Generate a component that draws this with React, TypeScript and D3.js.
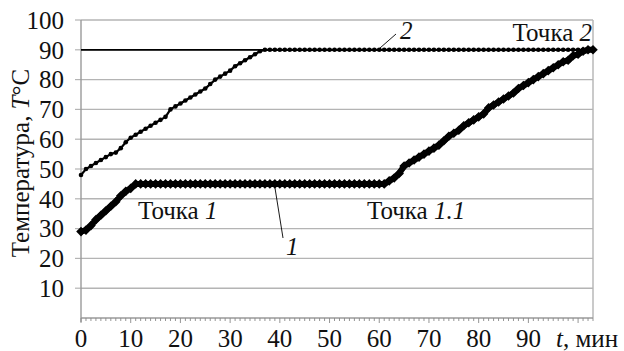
import * as d3 from 'd3';

// time, min (one reading per minute)
const minutes: number[] = d3.range(0, 104);

// curve 1 – Точка 1 / Точка 1.1
const curve1: number[] = [
  29, 29.5, 31, 33, 34.5, 36, 37.5, 39, 41, 42.5,
  43.5, 45, 45, 45, 45, 45, 45, 45, 45, 45,
  45, 45, 45, 45, 45, 45, 45, 45, 45, 45,
  45, 45, 45, 45, 45, 45, 45, 45, 45, 45,
  45, 45, 45, 45, 45, 45, 45, 45, 45, 45,
  45, 45, 45, 45, 45, 45, 45, 45, 45, 45,
  45, 45, 46, 47, 48.5, 51, 52, 53, 54, 55,
  56, 57, 58, 59.5, 61, 62, 63, 64.5, 65.5, 66.5,
  67.5, 68.5, 70.5, 71.5, 72.5, 73.5, 74.5, 75.5, 77, 78,
  79, 80, 81, 82, 83, 84, 85, 86, 86.5, 88,
  88.5, 89.5, 90, 90
];

// curve 2 – Точка 2
const curve2: number[] = [
  48, 50, 51, 52, 53, 54, 55, 55.5, 57, 59,
  60.5, 61.5, 62.5, 63.5, 64.5, 65.5, 66.5, 67.5, 70, 71,
  72, 73, 74, 75, 76, 77, 78.5, 80, 81, 82,
  83, 84.5, 85.5, 86.5, 87.5, 88.5, 89.5, 90, 90, 90,
  90, 90, 90, 90, 90, 90, 90, 90, 90, 90,
  90, 90, 90, 90, 90, 90, 90, 90, 90, 90,
  90, 90, 90, 90, 90, 90, 90, 90, 90, 90,
  90, 90, 90, 90, 90, 90, 90, 90, 90, 90,
  90, 90, 90, 90, 90, 90, 90, 90, 90, 90,
  90, 90, 90, 90, 90, 90, 90, 90, 90, 90,
  90, 90, 90, 90
];

const setPoint = 90;
const yTicks: number[] = [10, 20, 30, 40, 50, 60, 70, 80, 90, 100];
const xTicks: number[] = [0, 10, 20, 30, 40, 50, 60, 70, 80, 90];

const W = 624;
const H = 351;
const FONT = 'Liberation Serif, Tinos, Times New Roman, DejaVu Serif, serif';

export default function App() {
  const x = d3.scaleLinear().domain([0, 103]).range([81, 593]);
  const y = d3.scaleLinear().domain([0, 100]).range([318, 20]);

  const line = d3
    .line<number>()
    .x((_, i) => x(minutes[i]))
    .y((d) => y(d));

  const diamond = d3.symbol().type(d3.symbolSquare).size(46)() as string;

  const txt = { fontFamily: FONT, fontSize: 25, fill: '#111' };

  return (
    <svg
      width={W}
      height={H}
      style={{ position: 'absolute', left: 0, top: 0, background: '#fff' }}
    >
      {/* grid */}
      {yTicks.map((t) => (
        <g key={t}>
          <line x1={x(0)} x2={x(103)} y1={y(t)} y2={y(t)} stroke="#b4b4b4" strokeWidth={1.4} />
          <line x1={75} x2={81} y1={y(t)} y2={y(t)} stroke="#b4b4b4" strokeWidth={1.2} />
          <text x={64} y={y(t)} dy="0.35em" textAnchor="end" style={txt}>
            {t}
          </text>
        </g>
      ))}
      <line x1={x(0)} x2={x(0)} y1={y(100)} y2={y(0) + 4} stroke="#9a9a9a" strokeWidth={1.4} />
      <line x1={x(103)} x2={x(103)} y1={y(100)} y2={y(0)} stroke="#b4b4b4" strokeWidth={1.4} />
      <line x1={x(0)} x2={x(103)} y1={y(0)} y2={y(0)} stroke="#9a9a9a" strokeWidth={1.4} />
      {minutes.map((m) => (
        <line key={m} x1={x(m)} x2={x(m)} y1={y(0)} y2={y(0) + (m % 10 === 0 ? 5 : 3)} stroke="#8a8a8a" strokeWidth={0.9} />
      ))}
      {xTicks.map((t) => (
        <text key={t} x={x(t)} y={347} textAnchor="middle" style={txt}>
          {t}
        </text>
      ))}
      <text x={556} y={347} style={txt}>
        <tspan fontStyle="italic">t</tspan>, мин
      </text>

      {/* y label */}
      <text transform="translate(29,163) rotate(-90)" textAnchor="middle" style={txt}>
        Температура, <tspan fontStyle="italic">T</tspan>°C
      </text>

      {/* set point line */}
      <line x1={x(0)} x2={x(103)} y1={y(setPoint)} y2={y(setPoint)} stroke="#000" strokeWidth={1.8} />

      {/* curve 2 */}
      <path d={line(curve2) ?? ''} fill="none" stroke="#000" strokeWidth={2.2} />
      {curve2.map((v, i) => (
        <circle key={i} cx={x(minutes[i])} cy={y(v)} r={2.3} fill="#000" />
      ))}

      {/* curve 1 */}
      <path d={line(curve1) ?? ''} fill="none" stroke="#000" strokeWidth={6} />
      {curve1.map((v, i) => (
        <path key={i} d={diamond} transform={`translate(${x(minutes[i])},${y(v)}) rotate(45)`} fill="#000" />
      ))}

      {/* annotations */}
      <text x={138} y={219} style={txt}>
        Точка <tspan fontStyle="italic">1</tspan>
      </text>
      <text x={367} y={219} style={txt}>
        Точка <tspan fontStyle="italic">1.1</tspan>
      </text>
      <text x={592} y={41} textAnchor="end" style={txt}>
        Точка <tspan fontStyle="italic">2</tspan>
      </text>
      <line x1={275} y1={188} x2={283} y2={238} stroke="#000" strokeWidth={0.9} />
      <text x={286} y={255} fontStyle="italic" style={txt}>
        1
      </text>
      <line x1={380} y1={48} x2={396} y2={34} stroke="#000" strokeWidth={0.9} />
      <text x={400} y={39} fontStyle="italic" style={txt}>
        2
      </text>
    </svg>
  );
}
